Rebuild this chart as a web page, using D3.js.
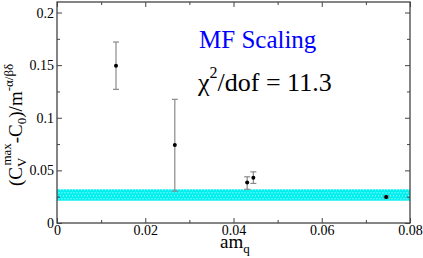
<!DOCTYPE html>
<html>
<head>
<meta charset="utf-8">
<script src="https://cdn.jsdelivr.net/npm/d3@7"></script>
</head>
<body style="margin:0;background:#fff">
<script>
// data
var amq = [0.01337, 0.0267, 0.0431, 0.0445, 0.0746];
var ratio = [0.1495, 0.074, 0.0386, 0.043, 0.0248];
var errHi = [0.172, 0.1175, 0.0439, 0.0486, 0.0258];
var errLo = [0.127, 0.0303, 0.032, 0.0376, 0.0238];
var bandRange = [0.0212, 0.032];
var xTicks = [0, 0.02, 0.04, 0.06, 0.08];
var xTickLabels = ["0", "0.02", "0.04", "0.06", "0.08"];
var yTicks = [0, 0.05, 0.1, 0.15, 0.2];
var yTickLabels = ["0", "0.05", "0.1", "0.15", "0.2"];

var W = 423, H = 258;
var margin = {top: 2, right: 13, bottom: 35, left: 57},
	width = W - margin.left - margin.right,
	height = H - margin.top - margin.bottom;

var svg = d3.select("body").append("svg")
	.attr("width", W)
	.attr("height", H);

var g = svg.append("g").attr("transform", "translate(" + margin.left + "," + margin.top + ")");

var x = d3.scaleLinear().domain([0, 0.08]).range([0, width]);
var y = d3.scaleLinear().domain([0, 0.21]).range([height, 0]);

// fit band, drawn as a checker of small cells
var bandTop = y(bandRange[1]), bandH = y(bandRange[0]) - y(bandRange[1]);
g.append("rect")
	.attr("x", 0)
	.attr("width", width)
	.attr("y", bandTop)
	.attr("height", bandH)
	.attr("fill", "#00f0f0");
var dotsG = g.append("g").attr("fill", "#c8ffff");
for (var cy = 0; cy < bandH - 0.5; cy += 3) {
	for (var cx = (cy / 3) % 2 ? 1.5 : 0; cx < width; cx += 3) {
		dotsG.append("rect").attr("x", cx).attr("y", bandTop + cy).attr("width", 1).attr("height", 1);
	}
}

// axes with inward ticks, mirrored
var axisColor = "#444";
function styleAxis(sel) {
	sel.select(".domain").remove();
	sel.selectAll("line").attr("stroke", axisColor).attr("stroke-width", 1);
	sel.selectAll("text").attr("fill", "#000")
		.attr("font-family", "Times New Roman").attr("font-size", 14);
}
var xMinor = d3.range(0.01, 0.08, 0.02);
var yMinor = d3.range(0.025, 0.21, 0.05);

g.append("g").attr("transform", "translate(0," + height + ")")
	.call(d3.axisBottom(x).tickValues(xTicks).tickSize(-5).tickPadding(2)
		.tickFormat(function(d, i){ return xTickLabels[i]; }))
	.call(styleAxis);
g.append("g").attr("transform", "translate(0," + height + ")")
	.call(d3.axisBottom(x).tickValues(xMinor).tickSize(-3).tickFormat(""))
	.call(styleAxis);
g.append("g")
	.call(d3.axisTop(x).tickValues(xTicks).tickSize(-5).tickFormat(""))
	.call(styleAxis);
g.append("g")
	.call(d3.axisTop(x).tickValues(xMinor).tickSize(-3).tickFormat(""))
	.call(styleAxis);

g.append("g")
	.call(d3.axisLeft(y).tickValues(yTicks).tickSize(-5).tickPadding(3)
		.tickFormat(function(d, i){ return yTickLabels[i]; }))
	.call(styleAxis);
g.append("g")
	.call(d3.axisLeft(y).tickValues(yMinor).tickSize(-3).tickFormat(""))
	.call(styleAxis);
g.append("g").attr("transform", "translate(" + width + ",0)")
	.call(d3.axisRight(y).tickValues(yTicks).tickSize(-5).tickFormat(""))
	.call(styleAxis);
g.append("g").attr("transform", "translate(" + width + ",0)")
	.call(d3.axisRight(y).tickValues(yMinor).tickSize(-3).tickFormat(""))
	.call(styleAxis);

g.append("rect")
	.attr("width", width)
	.attr("height", height)
	.attr("fill", "none")
	.attr("stroke", axisColor)
	.attr("stroke-width", 1.3);

// error bars
var pts = amq.map(function(d, i){ return {x: d, y: ratio[i], hi: errHi[i], lo: errLo[i]}; });
var eb = g.selectAll(".err").data(pts).enter().append("g")
	.attr("class", "err")
	.attr("stroke", "#8a8a8a")
	.attr("stroke-width", 1.2);
eb.append("line")
	.attr("x1", function(d){ return x(d.x); })
	.attr("x2", function(d){ return x(d.x); })
	.attr("y1", function(d){ return y(d.hi); })
	.attr("y2", function(d){ return y(d.lo); });
eb.append("line")
	.attr("x1", function(d){ return x(d.x) - 3; })
	.attr("x2", function(d){ return x(d.x) + 3; })
	.attr("y1", function(d){ return y(d.hi); })
	.attr("y2", function(d){ return y(d.hi); });
eb.append("line")
	.attr("x1", function(d){ return x(d.x) - 3; })
	.attr("x2", function(d){ return x(d.x) + 3; })
	.attr("y1", function(d){ return y(d.lo); })
	.attr("y2", function(d){ return y(d.lo); });

g.selectAll(".dot").data(pts).enter().append("circle")
	.attr("class", "dot")
	.attr("cx", function(d){ return x(d.x); })
	.attr("cy", function(d){ return y(d.y); })
	.attr("r", 2)
	.attr("fill", "#000");

// annotations
svg.append("text")
	.attr("x", 199)
	.attr("y", 48)
	.attr("font-family", "Liberation Serif")
	.attr("font-size", 25)
	.attr("fill", "#0000ff")
	.text("MF Scaling");

var chi = svg.append("text")
	.attr("x", 198)
	.attr("y", 91)
	.attr("font-family", "Liberation Serif")
	.attr("font-size", 26)
	.attr("fill", "#000");
chi.append("tspan").text("\u03c7");
chi.append("tspan").attr("font-size", 16).attr("dy", -13).text("2");
chi.append("tspan").attr("dy", 13).text("/dof = 11.3");

// x label
var xl = svg.append("text")
	.attr("x", 220)
	.attr("y", 248)
	.attr("font-family", "Liberation Serif")
	.attr("font-size", 19);
xl.append("tspan").text("am");
xl.append("tspan").attr("font-size", 13).attr("dy", 5).text("q");

// y label
var yl = svg.append("text")
	.attr("transform", "translate(22,186) rotate(-90)")
	.attr("font-family", "Liberation Serif")
	.attr("font-size", 19);
yl.append("tspan").text("(C");
yl.append("tspan").attr("font-size", 13).attr("dy", 4).text("V");
yl.append("tspan").attr("font-size", 13).attr("dx", -8).attr("dy", -15).text("max");
yl.append("tspan").attr("dy", 11).text("-C");
yl.append("tspan").attr("font-size", 13).attr("dy", 4).text("0");
yl.append("tspan").attr("dy", -4).text(")/m");
yl.append("tspan").attr("font-size", 13).attr("dy", -9).text("-\u03b1/\u03b2\u03b4");
</script>
</body>
</html>
